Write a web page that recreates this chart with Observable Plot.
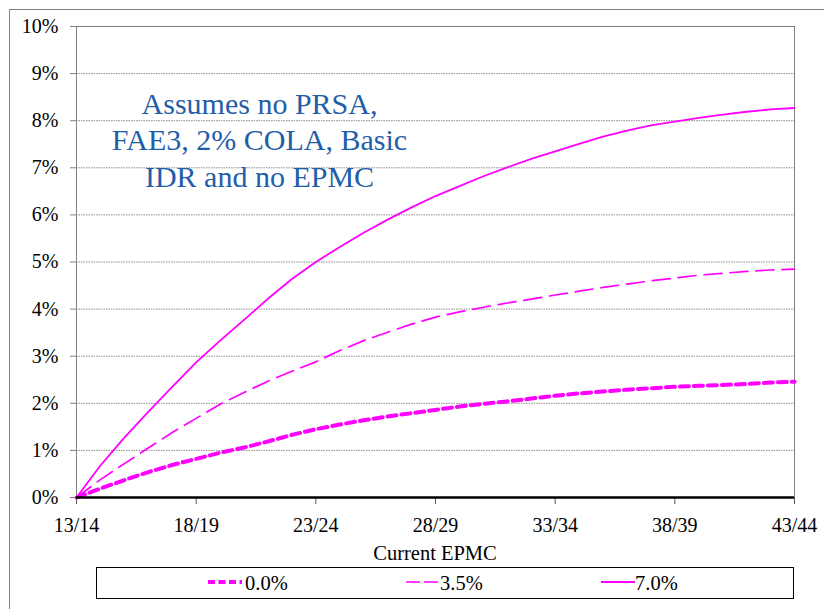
<!DOCTYPE html>
<html>
<head>
<meta charset="utf-8">
<script src="https://cdn.jsdelivr.net/npm/d3@7"></script>
<script src="https://cdn.jsdelivr.net/npm/@observablehq/plot@0.6"></script>
<style>
  html, body { margin: 0; padding: 0; background: #fff; }
  #wrap { position: relative; width: 824px; height: 609px; overflow: hidden; font-family: "Liberation Serif", "Times New Roman", serif; color: #000; }
  #wrap div { font-family: "Liberation Serif", "Times New Roman", serif; }
  #chart svg, #chart svg text, #chart svg g { font-family: "Liberation Serif", "Times New Roman", serif !important; }
  #border { position: absolute; left: 9px; top: 9px; width: 840px; height: 640px; border: 1px solid #808080; }
  #chart { position: absolute; left: 0; top: 0; }
  #note { position: absolute; left: 59.5px; top: 85.5px; width: 400px; text-align: center; color: #1f5ea8; font-size: 30px; line-height: 36.7px; }
  #xtitle { position: absolute; left: 235px; top: 542.8px; width: 400px; text-align: center; font-size: 20.5px; line-height: 20.5px; white-space: nowrap; }
  #legend { position: absolute; left: 96px; top: 567px; width: 696px; height: 30px; border: 1px solid #000; }
  .lg { position: absolute; top: 572.8px; font-size: 20.5px; line-height: 20.5px; white-space: nowrap; }
  .sw { position: absolute; top: 577px; }
</style>
</head>
<body>
<div id="wrap">
  <div id="border"></div>
  <div id="chart"></div>
  <div id="note">Assumes no PRSA,<br>FAE3, 2% COLA, Basic<br>IDR and no EPMC</div>
  <div id="xtitle">Current EPMC</div>
  <div id="legend"></div>
</div>
<script>
// Categories (fiscal years)
const years = ["13/14","14/15","15/16","16/17","17/18","18/19","19/20","20/21","21/22","22/23",
               "23/24","24/25","25/26","26/27","27/28","28/29","29/30","30/31","31/32","32/33",
               "33/34","34/35","35/36","36/37","37/38","38/39","39/40","40/41","41/42","42/43","43/44"];
const tickYears = ["13/14","18/19","23/24","28/29","33/34","38/39","43/44"];
const yTicks = [0,1,2,3,4,5,6,7,8,9,10];
const gridTicks = [1,2,3,4,5,6,7,8,9];

// Series values (percent)
const s00 = [0,0.19,0.37,0.54,0.69,0.82,0.95,1.06,1.19,1.33,1.45,1.55,1.64,1.72,1.79,1.86,
             1.93,1.99,2.04,2.10,2.16,2.21,2.25,2.29,2.32,2.35,2.37,2.39,2.41,2.44,2.46];
const s35 = [0,0.38,0.72,1.05,1.38,1.68,1.98,2.23,2.47,2.68,2.88,3.12,3.33,3.51,3.68,3.83,
             3.94,4.04,4.13,4.21,4.30,4.38,4.46,4.53,4.60,4.66,4.72,4.76,4.80,4.83,4.85];
const s70 = [0,0.68,1.27,1.82,2.35,2.87,3.33,3.77,4.22,4.64,5.00,5.32,5.62,5.90,6.16,6.40,
             6.61,6.82,7.01,7.19,7.35,7.51,7.66,7.79,7.90,7.98,8.06,8.13,8.19,8.24,8.27];
const seriesNames = ["0.0%","3.5%","7.0%"];

const toRows = (vals) => years.map((y, i) => ({idx: i, year: y, v: vals[i]}));
const tickIdx = tickYears.map(t => years.indexOf(t));
const MAG = "#ff00ff";

const chart = Plot.plot({
  width: 824,
  height: 609,
  marginLeft: 76,
  marginRight: 30,
  marginTop: 26,
  marginBottom: 112,
  style: { fontFamily: "Liberation Serif", fontSize: "20px", color: "#000", background: "transparent", overflow: "visible" },
  x: { domain: [0, years.length - 1] },
  y: { domain: [0, 10] },
  marks: [
    Plot.gridY(gridTicks, { stroke: "#8c8c8c", strokeOpacity: 1, strokeDasharray: "1.5,1" }),
    Plot.frame({ stroke: "#808080" }),
    Plot.axisY(yTicks, { tickSize: 6, tickPadding: 12, stroke: "#808080", fill: "#000", tickFormat: d => d + "%", label: null }),
    Plot.axisX(tickIdx, { tickSize: 7, tickPadding: 13, stroke: "#555", fill: "#000", tickFormat: i => years[i], label: null }),
    Plot.line(toRows(s00), { x: "idx", y: "v", stroke: MAG, strokeWidth: 4, strokeDasharray: "9,5" }),
    Plot.line(toRows(s35), { x: "idx", y: "v", stroke: MAG, strokeWidth: 1.7, strokeDasharray: "18,8" }),
    Plot.line(toRows(s70), { x: "idx", y: "v", stroke: MAG, strokeWidth: 1.8 }),
    Plot.ruleY([0], { stroke: "#000", strokeWidth: 2.5 })
  ]
});
document.getElementById("chart").appendChild(chart);

// Legend
const wrap = document.getElementById("wrap");
const legendItems = [
  { name: seriesNames[0], sx: 208, tx: 245, w: 4, dash: "7,3.5" },
  { name: seriesNames[1], sx: 406, tx: 440, w: 1.7, dash: "14,4" },
  { name: seriesNames[2], sx: 601, tx: 635, w: 1.8, dash: null }
];
legendItems.forEach(it => {
  const ns = "http://www.w3.org/2000/svg";
  const svg = document.createElementNS(ns, "svg");
  svg.setAttribute("width", 34);
  svg.setAttribute("height", 10);
  svg.setAttribute("class", "sw");
  svg.style.left = it.sx + "px";
  const ln = document.createElementNS(ns, "line");
  ln.setAttribute("x1", 0); ln.setAttribute("x2", 34);
  ln.setAttribute("y1", 5); ln.setAttribute("y2", 5);
  ln.setAttribute("stroke", MAG);
  ln.setAttribute("stroke-width", it.w);
  if (it.dash) ln.setAttribute("stroke-dasharray", it.dash);
  svg.appendChild(ln);
  wrap.appendChild(svg);
  const t = document.createElement("div");
  t.className = "lg";
  t.style.left = it.tx + "px";
  t.textContent = it.name;
  wrap.appendChild(t);
});
</script>
</body>
</html>
